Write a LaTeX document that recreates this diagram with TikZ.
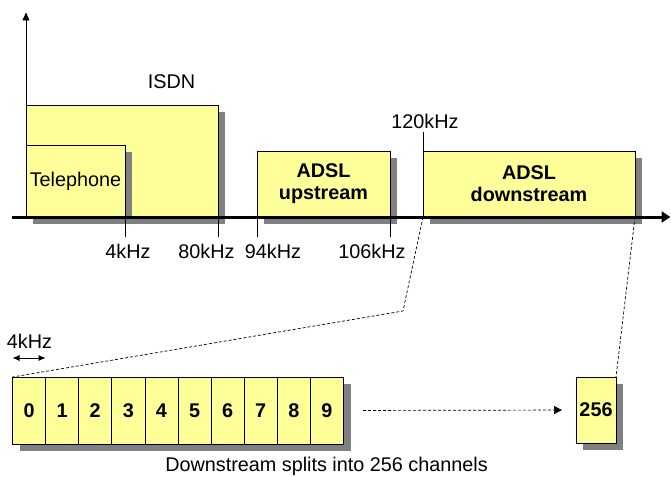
\documentclass[tikz,border=0pt]{standalone}
\usepackage{fontspec}
\setmainfont{Liberation Sans}
\usetikzlibrary{
  arrows.meta,
  positioning,
  shadows
}
\definecolor{adslBand}{RGB}{255,255,153}
\definecolor{adslShadow}{RGB}{128,128,128}
\newcommand{\adslfont}{\fontsize{19.8}{22}\selectfont}
\tikzset{
  band/.style={
    draw=black,
    line width=0.8pt,
    fill=adslBand,
    anchor=north west,
    inner sep=0pt,
    outer sep=0pt,
    align=center,
    font=\adslfont,
    general shadow={fill=adslShadow, shadow xshift=7pt, shadow yshift=-7pt}
  },
  chan/.style={
    band,
    minimum width=33.1pt,
    minimum height=67pt,
    font=\adslfont\bfseries
  },
  freqlabel/.style={
    inner sep=0pt,
    font=\adslfont
  },
  axisline/.style={
    draw=black,
    line width=3pt,
    -{Triangle[length=9pt,width=11pt]}
  },
  tick/.style={
    draw=black,
    line width=0.8pt
  },
  splitline/.style={
    draw=black,
    line width=0.7pt,
    dash pattern=on 3pt off 2pt
  }
}

\begin{document}
\begin{tikzpicture}[x=1pt,y=-1pt]
  \useasboundingbox (0,0) rectangle (671,476);

  % frequency bands
  \node[band, minimum width=192pt, minimum height=112pt] (isdn) at (26,105) {};
  \node[band, minimum width=99pt, minimum height=72pt] (tel) at (26,145) {Telephone};
  \node[band, minimum width=133pt, minimum height=66pt, font=\adslfont\bfseries] (up) at (257,151) {ADSL\\upstream};
  \node[band, minimum width=212pt, minimum height=66pt, font=\adslfont\bfseries] (down) at (423,151) {ADSL\\downstream};
  \node[freqlabel] (isdnlabel) at (171.5,82) {ISDN};

  % axes
  \coordinate (xstart) at (12,217);
  \coordinate (xend) at (670.5,217);
  \coordinate (ytop) at (26,12.5);
  \draw[axisline] (xstart) -- (xend);
  \draw[line width=0.8pt, -{Triangle[length=8pt,width=7pt]}] (isdn.south west) -- (ytop);

  % ticks and labels
  \node[freqlabel] (l4) at (128,251) {4kHz};
  \node[freqlabel] (l80) at (206.5,251) {80kHz};
  \node[freqlabel] (l94) at (273,251) {94kHz};
  \node[freqlabel] (l106) at (372,251) {106kHz};
  \node[freqlabel] (l120) at (425,121.5) {120kHz};
  \draw[tick] (tel.south east) -- +(0,20);
  \draw[tick] (isdn.south east) -- +(0,20);
  \draw[tick] (up.south west) -- +(0,20);
  \draw[tick] (up.south east) -- +(0,20);
  \draw[tick] (down.north west) -- +(0,-19);

  % channels
  \foreach \i in {0,...,9}
    \node[chan] (ch\i) at ({12.5+33.1*\i},377) {\i};
  \node[chan, minimum width=40pt, minimum height=66pt] (ch256) at (576,377) {256};

  \coordinate (split) at (403,311);
  \draw[splitline] (down.south west) -- (split) -- (ch0.north west);
  \draw[splitline] (down.south east) -- (ch256.north east);
  \draw[splitline, -{Triangle[length=8pt,width=8pt]}, shorten <=19.5pt, shorten >=14pt] (ch9.east) -- (ch256.west);

  \draw[line width=0.8pt, {Latex[length=7pt,width=6pt]}-{Latex[length=7pt,width=6pt]}]
    ([yshift=19pt]ch0.north west) -- ([yshift=19pt]ch0.north east);
  \node[freqlabel] (lchan) at (29.5,341.5) {4kHz};

  \node[freqlabel] (caption) at (326.5,466) {Downstream splits into 256 channels};
\end{tikzpicture}
\end{document}
